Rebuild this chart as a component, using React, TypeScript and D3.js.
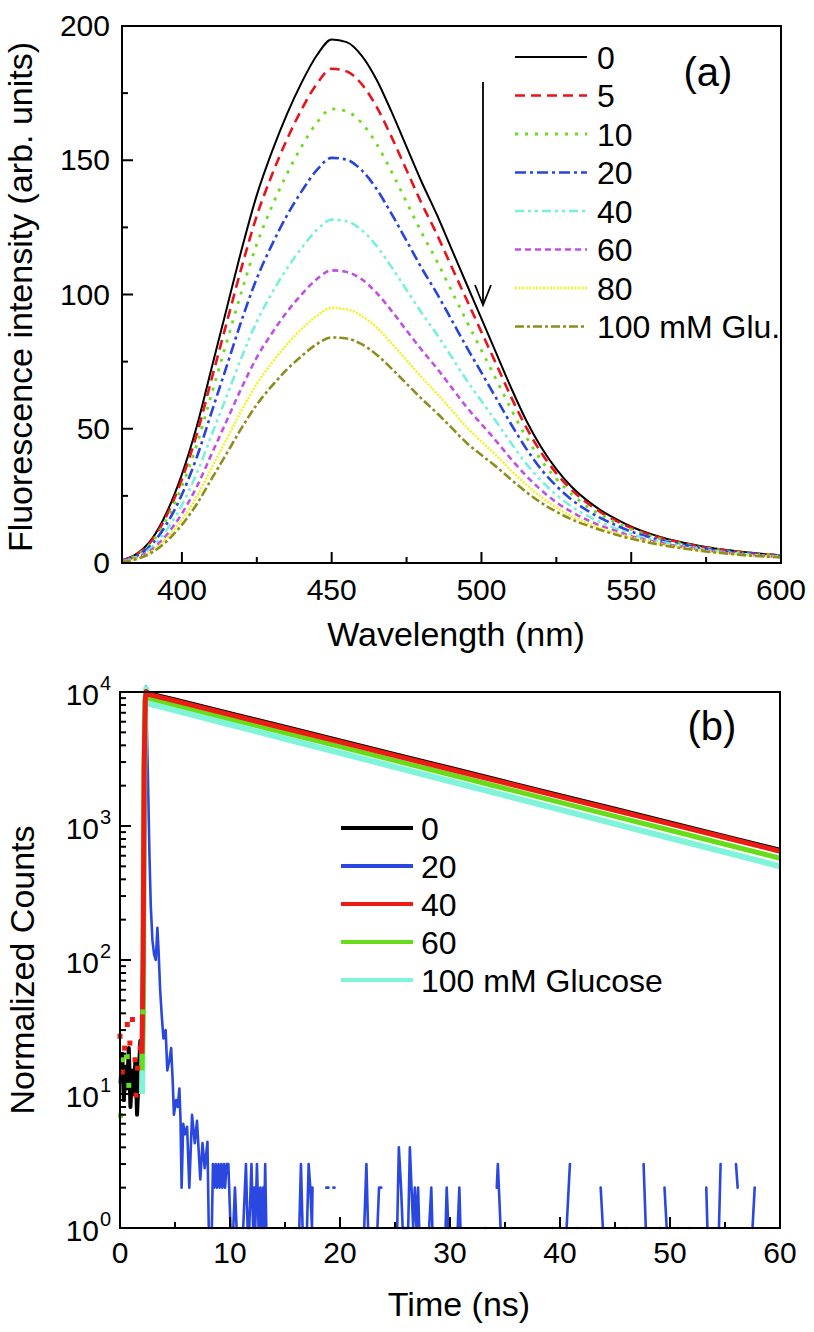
import React from 'react';
import * as d3 from 'd3';

// ---------- Panel (a) data: fluorescence spectra ----------
const wavelengths = [380, 385, 390, 395, 400, 405, 410, 415, 420, 425, 430, 435, 440, 445, 450, 455, 460, 465, 470, 475, 480, 485, 490, 495, 500, 505, 510, 515, 520, 525, 530, 535, 540, 545, 550, 555, 560, 565, 570, 575, 580, 585, 590, 595, 600];
const glu0 = [1.0, 3.5, 9, 19, 33, 51, 73, 95, 117, 137, 153, 167, 179, 189, 195, 194, 189, 180, 168, 155, 142, 130, 117, 104, 91, 78, 65, 53, 43, 35, 28.5, 23.5, 19.5, 16.3, 13.5, 11.4, 9.6, 8.2, 7.0, 6.0, 5.1, 4.4, 3.8, 3.3, 2.9];
const glu5 = [0.9, 3.3, 8.5, 17.9, 31.2, 48.1, 68.9, 89.7, 110.4, 129.3, 144.4, 157.6, 169.0, 178.4, 184.1, 183.1, 178.4, 169.9, 158.6, 146.3, 134.0, 122.7, 110.4, 98.2, 86.0, 73.9, 61.6, 50.4, 41.0, 33.4, 27.3, 22.6, 18.8, 15.7, 13.1, 11.0, 9.3, 8.0, 6.8, 5.8, 5.0, 4.3, 3.7, 3.2, 2.8];
const glu10 = [0.9, 3.0, 7.8, 16.5, 28.6, 44.2, 63.3, 82.4, 101.4, 118.8, 132.7, 144.8, 155.2, 163.9, 169.1, 168.2, 163.9, 156.1, 145.7, 134.4, 123.1, 112.7, 101.4, 90.2, 79.2, 68.2, 57.1, 46.8, 38.2, 31.3, 25.7, 21.3, 17.8, 15.0, 12.5, 10.6, 8.9, 7.6, 6.5, 5.6, 4.8, 4.1, 3.5, 3.1, 2.7];
const glu20 = [0.8, 2.7, 7.0, 14.7, 25.5, 39.5, 56.5, 73.5, 90.6, 106.0, 118.4, 129.3, 138.5, 146.3, 150.9, 150.2, 146.3, 139.3, 130.0, 120.0, 109.9, 100.6, 90.6, 80.5, 70.9, 61.2, 51.5, 42.5, 34.8, 28.7, 23.7, 19.8, 16.6, 14.0, 11.7, 10.0, 8.4, 7.3, 6.2, 5.3, 4.5, 3.9, 3.4, 2.9, 2.6];
const glu40 = [0.7, 2.3, 5.9, 12.5, 21.6, 33.5, 47.9, 62.3, 76.8, 89.9, 100.4, 109.6, 117.4, 124.0, 127.9, 127.3, 124.0, 118.1, 110.2, 101.7, 93.2, 85.3, 76.8, 68.2, 60.3, 52.5, 44.5, 36.9, 30.6, 25.4, 21.1, 17.8, 15.1, 12.8, 10.8, 9.2, 7.9, 6.8, 5.8, 5.0, 4.2, 3.6, 3.1, 2.7, 2.4];
const glu60 = [0.6, 2.0, 5.0, 10.6, 18.4, 28.5, 40.8, 53.1, 65.4, 76.6, 85.5, 93.4, 100.1, 105.7, 109.0, 108.4, 105.7, 100.6, 93.9, 86.6, 79.4, 72.7, 65.4, 58.1, 51.7, 45.3, 38.6, 32.4, 27.1, 22.6, 19.1, 16.2, 13.8, 11.9, 10.0, 8.6, 7.4, 6.4, 5.5, 4.7, 4.0, 3.4, 3.0, 2.6, 2.3];
const glu80 = [0.5, 1.7, 4.4, 9.3, 16.1, 24.8, 35.6, 46.3, 57.0, 66.7, 74.5, 81.3, 87.2, 92.0, 95.0, 94.5, 92.0, 87.7, 81.8, 75.5, 69.2, 63.3, 57.0, 50.6, 45.2, 40.0, 34.3, 29.1, 24.5, 20.7, 17.5, 15.1, 12.9, 11.1, 9.5, 8.2, 7.0, 6.1, 5.2, 4.5, 3.8, 3.3, 2.8, 2.5, 2.2];
const glu100 = [0.4, 1.5, 3.9, 8.2, 14.2, 22.0, 31.5, 40.9, 50.4, 59.0, 65.9, 72.0, 77.1, 81.5, 84.0, 83.6, 81.5, 77.6, 72.4, 66.8, 61.2, 56.0, 50.4, 44.8, 40.2, 35.8, 31.0, 26.4, 22.4, 19.1, 16.3, 14.1, 12.2, 10.5, 9.0, 7.8, 6.7, 5.8, 5.0, 4.3, 3.7, 3.2, 2.7, 2.4, 2.1];
const labelsA = ['0', '5', '10', '20', '40', '60', '80', '100 mM Glu.'];
const seriesAValues = [glu0, glu5, glu10, glu20, glu40, glu60, glu80, glu100];
const xTicksA = [400, 450, 500, 550, 600];
const xMinorA = [425, 475, 525, 575];
const yTicksA = [0, 50, 100, 150, 200];
const yMinorA = [25, 75, 125, 175];

// ---------- Panel (b) data: decay curves ----------
const riseTime = [2.0, 2.1, 2.2, 2.3, 2.38];
const decayTime = [2.6, 5, 10, 15, 20, 25, 30, 35, 40, 45, 50, 55, 60];
const rise0 = [12, 130, 3200, 9000, 10300];
const decay0 = [9800, 8790, 6950, 5500, 4350, 3440, 2720, 2150, 1700, 1345, 1063, 841, 665];
const rise40 = [20, 100, 2900, 8800, 10100];
const decay40 = [9600, 8577, 6783, 5363, 4241, 3354, 2652, 2097, 1658, 1311, 1037, 820, 648];
const rise60 = [15, 41, 2700, 8500, 10000];
const decay60 = [9000, 8023, 6313, 4968, 3910, 3077, 2421, 1905, 1499, 1180, 929, 731, 575];
const rise100 = [10, 40, 2500, 8000, 10600];
const decay100 = [8200, 7295, 5718, 4480, 3512, 2753, 2157, 1691, 1325, 1038, 814, 638, 500];

const earlyTime0 = [0.05, 0.2, 0.35, 0.5, 0.65, 0.8, 0.95, 1.1, 1.25, 1.4, 1.55, 1.7, 1.85, 1.95];
const early0 = [12, 20, 9, 16, 11, 22, 8, 15, 10, 18, 7, 14, 25, 12];
const earlyTime40 = [0.0, 0.2, 0.42, 0.66, 0.9, 1.13, 1.37, 1.46, 1.6, 1.84];
const early40 = [27, 14.6, 22, 33, 24, 36, 18, 9.8, 15.6, 22];
const earlyTime60 = [0.05, 0.2, 0.66, 0.8, 2.07];
const early60 = [6.9, 18, 19, 11.6, 41];

// 20 mM curve (count 0 -> null, a gap on the log axis)
const time20 = [1.9, 2.05, 2.2, 2.35, 2.45, 2.55, 2.68, 2.8, 2.95, 3.1, 3.25, 3.4, 3.5, 3.65, 3.8, 3.95, 4.15, 4.3, 4.5, 4.65, 4.8, 4.9, 5.1, 5.25, 5.4, 5.5, 5.6, 5.75, 5.9, 6.1, 6.3, 6.55, 6.8, 7.0, 7.3, 7.5, 7.7, 7.95, 8.07, 8.2, 8.35, 8.45, 8.55, 8.7, 8.8, 8.95, 9.05, 9.2, 9.3, 9.45, 9.55, 9.7, 9.85, 10.05, 10.2, 10.3, 10.45, 10.6, 10.7, 11.2, 11.45, 11.6, 11.75, 11.95, 12.1, 12.2, 12.3, 12.45, 12.6, 12.75, 12.85, 13.0, 13.1, 13.2, 13.3, 13.4,
  14.8, 14.85, 16.0, 16.05, 16.3, 16.45, 16.6, 16.7, 17.0, 17.15, 17.3, 17.45, 17.5, 17.6, 18.75, 18.95, 19.0, 19.4, 19.5, 19.55, 20.5, 20.55, 22.2, 22.4, 22.55, 22.6, 23.4, 23.55, 23.75, 23.8,
  25.2, 25.35, 25.55, 25.7, 26.2, 26.35, 26.5, 26.65, 26.8, 26.95, 27.1, 27.2, 27.3, 28.1, 28.3, 28.4, 28.45, 29.6, 29.7, 29.85, 29.9, 30.7, 30.85, 30.95, 31.0, 33.2, 33.25, 34.25, 34.35, 34.6, 34.65, 35.6, 35.65, 39.3, 39.35,
  40.6, 40.9, 40.95, 41.6, 41.65, 42.9, 42.95, 43.7, 43.9, 43.95, 46.0, 46.05, 47.6, 47.8, 47.85, 49.1, 49.15, 49.5, 49.7, 49.75, 50.7, 50.75, 51.8, 51.85, 53.3, 53.4, 53.45, 54.45, 54.6, 54.65, 56.0, 56.15, 56.2, 57.5, 57.7, 57.75];
const counts20 = [12, 150, 3500, 11000, 5000, 2100, 600, 250, 140, 110, 100, 174, 120, 60, 38, 26, 30, 15, 18, 22, 12, 7, 9, 8, 11, 6.5, 2, 6, 5, 5.7, 2, 7, 4.3, 6.3, 2.3, 4.3, 2.8, 4.4, 1, null, 1, 3, 2, 3, 2, 3, 2, 3, 2, 3, 2, 3, 3, 1, null, 1, 2, 1, null, 1, 3, 1, 1, 3, 1, 2, 1, 3, 1, 2, 1, 2, 1, 3, 1, null,
  1, null, 1, null, 1, 3, 1, null, 1, 3, 2, 1, 2, null, 2, 2, null, 2, 2, null, 1, null, 1, 3, 1, null, 1, 2, 2, null,
  1, 4, 2, 1, 1, 4, 2, 1, 2, 1, 2, 1, null, 1, 2, 1, null, 1, 2, 1, null, 1, 2, 1, null, 1, null, 2, 3, 1, null, 1, null, 1, null,
  1, 3, null, 1, null, 1, null, 2, 1, null, 1, null, 3, 1, null, 1, null, 2, 1, null, 1, null, 1, null, 2, 1, null, 1, 3, null, 3, 2, null, 1, 2, null];

const labelsB = ['0', '20', '40', '60', '100 mM Glucose'];
const xTicksB = [0, 10, 20, 30, 40, 50, 60];
const xMinorB = [5, 15, 25, 35, 45, 55];
const yExpB = [0, 1, 2, 3, 4];

// ---------- styles ----------
const FONT = "'Liberation Sans', Arial, Helvetica, sans-serif";
const colorsA = ['#000000', '#e8141c', '#6cdc1c', '#2844dc', '#78f0dc', '#c050e4', '#f2f21c', '#8e8e1e'];
const dashesA = ['none', '10,6', '3,7', '11,4,3,4', '9,4,3,4,3,4', '6,4', '2,1.5', '9,3,3,3'];
const widthsA = [2, 2.6, 2.8, 2.6, 2.6, 2.6, 2.4, 2.6];
const colorsB = ['#000000', '#2a48e0', '#ee1a14', '#66dd18', '#80f4da'];

const A = { left: 122, right: 781, top: 26, bottom: 563 };
const B = { left: 120, right: 780, top: 692, bottom: 1228 };

export default function App() {
  const xA = d3.scaleLinear().domain([380, 600]).range([A.left, A.right]);
  const yA = d3.scaleLinear().domain([0, 200]).range([A.bottom, A.top]);
  const xB = d3.scaleLinear().domain([0, 60]).range([B.left, B.right]);
  const yB = d3.scaleLog().domain([1, 10000]).range([B.bottom, B.top]);

  const lineA = d3.line<number>()
    .x((_, i) => xA(wavelengths[i]))
    .y((d) => yA(d))
    .curve(d3.curveMonotoneX);

  const lineB = d3.line<[number, number | null]>()
    .defined((d) => d[1] !== null && (d[1] as number) > 0)
    .x((d) => xB(d[0]))
    .y((d) => yB(d[1] as number));

  const zip = (t: number[], v: (number | null)[]) => t.map((tt, i) => [tt, v[i]] as [number, number | null]);

  const mainB = [
    { color: colorsB[0], pts: zip([...earlyTime0, ...riseTime, ...decayTime], [...early0, ...rise0, ...decay0]), w: 4 },
    { color: colorsB[4], pts: zip([...riseTime, ...decayTime], [...rise100, ...decay100]), w: 6 },
    { color: colorsB[3], pts: zip([...riseTime, ...decayTime], [...rise60, ...decay60]), w: 5 },
    { color: colorsB[2], pts: zip([...riseTime, ...decayTime], [...rise40, ...decay40]), w: 5 },
  ];

  const logMinor: number[] = [];
  [1, 10, 100, 1000].forEach((dec) => {
    [2, 3, 4, 5, 6, 7, 8, 9].forEach((m) => logMinor.push(dec * m));
  });

  return (
    <svg width={814} height={1332} style={{ position: 'absolute', left: 0, top: 0, background: '#fff' }} fontFamily={FONT}>
      <rect x={0} y={0} width={814} height={1332} fill="#fff" />
      {/* ===== Panel (a) ===== */}
      <g>
        {seriesAValues.map((vals, i) => (
          <path key={'a' + i} d={lineA(vals) || ''} fill="none" stroke={colorsA[i]}
            strokeWidth={widthsA[i]} strokeDasharray={dashesA[i]} />
        ))}
        <rect x={A.left} y={A.top} width={A.right - A.left} height={A.bottom - A.top} fill="none" stroke="#000" strokeWidth={2} />
        {xTicksA.map((t) => (
          <g key={'xa' + t}>
            <line x1={xA(t)} x2={xA(t)} y1={A.bottom} y2={A.bottom - 11} stroke="#000" strokeWidth={2} />
            <text x={xA(t)} y={600} textAnchor="middle" fontSize={30}>{t}</text>
          </g>
        ))}
        {xMinorA.map((t) => (
          <line key={'xam' + t} x1={xA(t)} x2={xA(t)} y1={A.bottom} y2={A.bottom - 6} stroke="#000" strokeWidth={2} />
        ))}
        {yTicksA.map((t) => (
          <g key={'ya' + t}>
            <line x1={A.left} x2={A.left + 11} y1={yA(t)} y2={yA(t)} stroke="#000" strokeWidth={2} />
            <text x={110} y={yA(t) + 10} textAnchor="end" fontSize={30}>{t}</text>
          </g>
        ))}
        {yMinorA.map((t) => (
          <line key={'yam' + t} x1={A.left} x2={A.left + 6} y1={yA(t)} y2={yA(t)} stroke="#000" strokeWidth={2} />
        ))}
        <text x={456} y={646} textAnchor="middle" fontSize={34}>Wavelength (nm)</text>
        <text transform="translate(32,297) rotate(-90)" textAnchor="middle" fontSize={34}>Fluorescence intensity (arb. units)</text>
        <text x={708} y={86} textAnchor="middle" fontSize={40}>(a)</text>
        {/* arrow */}
        <line x1={483} x2={483} y1={82} y2={305} stroke="#000" strokeWidth={1.8} />
        <polyline points="475,285 483,305 491,285" fill="none" stroke="#000" strokeWidth={1.8} />
        {/* legend */}
        {labelsA.map((lab, i) => {
          const y = 57 + i * 38.5;
          return (
            <g key={'la' + i}>
              <line x1={515} x2={587} y1={y} y2={y} stroke={colorsA[i]} strokeWidth={widthsA[i]} strokeDasharray={dashesA[i]} />
              <text x={597} y={y + 11.5} fontSize={32}>{lab}</text>
            </g>
          );
        })}
      </g>

      {/* ===== Panel (b) ===== */}
      <g>
        <path d={lineB(zip(time20, counts20)) || ''} fill="none" stroke={colorsB[1]} strokeWidth={2.6} strokeLinecap="round" strokeLinejoin="round" />
        {mainB.map((s, i) => (
          <path key={'b' + i} d={lineB(s.pts) || ''} fill="none" stroke={s.color} strokeWidth={s.w} strokeLinejoin="round" />
        ))}
        {earlyTime40.map((t, i) => (
          <rect key={'r40' + i} x={xB(t) - 2.5} y={yB(early40[i]) - 2.5} width={5} height={5} fill={colorsB[2]} />
        ))}
        {earlyTime60.map((t, i) => (
          <rect key={'r60' + i} x={xB(t) - 2.5} y={yB(early60[i]) - 2.5} width={5} height={5} fill={colorsB[3]} />
        ))}
        <rect x={B.left} y={B.top} width={B.right - B.left} height={B.bottom - B.top} fill="none" stroke="#000" strokeWidth={2} />
        {xTicksB.map((t) => (
          <g key={'xb' + t}>
            <line x1={xB(t)} x2={xB(t)} y1={B.bottom} y2={B.bottom - 11} stroke="#000" strokeWidth={2} />
            <text x={xB(t)} y={1263} textAnchor="middle" fontSize={30}>{t}</text>
          </g>
        ))}
        {xMinorB.map((t) => (
          <line key={'xbm' + t} x1={xB(t)} x2={xB(t)} y1={B.bottom} y2={B.bottom - 6} stroke="#000" strokeWidth={2} />
        ))}
        {yExpB.map((e) => {
          const y = yB(Math.pow(10, e));
          return (
            <g key={'yb' + e}>
              <line x1={B.left} x2={B.left + 11} y1={y} y2={y} stroke="#000" strokeWidth={2} />
              <text x={99} y={y + 13} textAnchor="end" fontSize={30}>10</text>
              <text x={100} y={y - 2} fontSize={20}>{e}</text>
            </g>
          );
        })}
        {logMinor.map((v) => (
          <line key={'ybm' + v} x1={B.left} x2={B.left + 6} y1={yB(v)} y2={yB(v)} stroke="#000" strokeWidth={2} />
        ))}
        <text x={459} y={1316} textAnchor="middle" fontSize={34}>Time (ns)</text>
        <text transform="translate(34,970) rotate(-90)" textAnchor="middle" fontSize={34}>Normalized Counts</text>
        <text x={712} y={740} textAnchor="middle" fontSize={40}>(b)</text>
        {labelsB.map((lab, i) => {
          const y = 828 + i * 38;
          return (
            <g key={'lb' + i}>
              <line x1={341} x2={413} y1={y} y2={y} stroke={colorsB[i]} strokeWidth={4} />
              <text x={421} y={y + 11.5} fontSize={32}>{lab}</text>
            </g>
          );
        })}
      </g>
    </svg>
  );
}
